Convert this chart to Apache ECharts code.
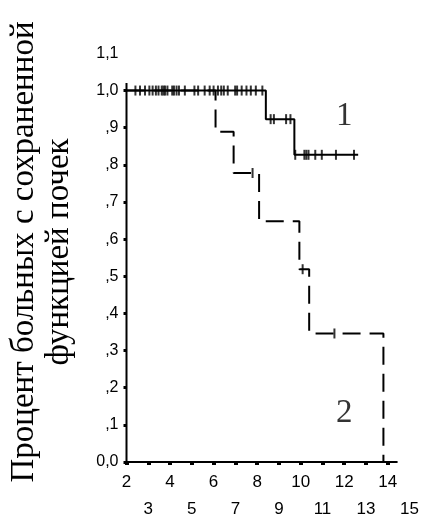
<!DOCTYPE html>
<html>
<head>
<meta charset="utf-8">
<script src="https://cdn.jsdelivr.net/npm/echarts@6/dist/echarts.min.js"></script>
<style>
  html, body { margin: 0; padding: 0; background: #fff; }
  #chart { width: 422px; height: 518px; }
</style>
</head>
<body>
<div id="chart"></div>
<script>
// Kaplan–Meier curves: share of patients with preserved kidney function over time

// Tick values / labels
const yLabelValues = [0, 0.1, 0.2, 0.3, 0.4, 0.5, 0.6, 0.7, 0.8, 0.9, 1.0, 1.1];
const yLabelTexts  = ['0,0', ',1', ',2', ',3', ',4', ',5', ',6', ',7', ',8', ',9', '1,0', '1,1'];
const yTickValues  = [0, 0.1, 0.2, 0.3, 0.4, 0.5, 0.6, 0.7, 0.8, 0.9, 1.0];
const xTickValues  = [2, 3, 4, 5, 6, 7, 8, 9, 10, 11, 12, 13, 14];
const xLabelsUpper = [2, 4, 6, 8, 10, 12, 14];
const xLabelsLower = [3, 5, 7, 9, 11, 13, 15];

// Group 1 survival steps (time, survival after event)
const group1Steps = [[2, 1.0], [8.4, 0.923], [9.71, 0.827], [12.64, 0.827]];
// Group 1 censored observations
const group1Censored = [
  [2.41, 1.0], [2.62, 1.0], [2.85, 1.0], [3.05, 1.0], [3.2, 1.0], [3.35, 1.0], [3.47, 1.0],
  [3.62, 1.0], [3.7, 1.0], [3.77, 1.0], [3.88, 1.0], [4.1, 1.0], [4.18, 1.0], [4.3, 1.0],
  [4.41, 1.0], [4.68, 1.0], [5.12, 1.0], [5.29, 1.0], [5.59, 1.0], [5.82, 1.0], [6.0, 1.0],
  [6.2, 1.0], [6.35, 1.0], [6.47, 1.0], [6.65, 1.0], [6.99, 1.0], [7.08, 1.0], [7.29, 1.0],
  [7.51, 1.0], [7.71, 1.0], [7.94, 1.0], [8.24, 1.0],
  [8.62, 0.923], [8.77, 0.923], [9.33, 0.923], [9.53, 0.923],
  [9.75, 0.827], [10.17, 0.827], [10.26, 0.827], [10.36, 0.827], [10.67, 0.827],
  [10.97, 0.827], [11.62, 0.827], [12.45, 0.827]
];

// Group 2 survival steps
const group2Steps = [[2, 1.0], [6.09, 0.889], [6.92, 0.778], [8.09, 0.648], [9.94, 0.519], [10.39, 0.346], [13.8, 0]];
// Group 2 censored observations
const group2Censored = [[7.79, 0.778], [10.09, 0.519], [11.55, 0.346]];

// Axis lines
const xAxisLine = [[2, 0], [14.45, 0]];
const yAxisLine = [[2, 0], [2, 1.02]];

// Curve labels
const curveLabels = [[12.0, 0.93, '1'], [12.0, 0.13, '2']];

const SANS = '"Liberation Sans", Arial, sans-serif';
const SERIF = '"Liberation Serif", "Times New Roman", serif';

const chart = echarts.init(document.getElementById('chart'), null, { renderer: 'canvas' });

const censorSymbol = {
  type: 'scatter',
  symbol: 'rect',
  symbolSize: [2, 10],
  itemStyle: { color: '#000' },
  silent: true,
  z: 5
};

chart.setOption({
  animation: false,
  backgroundColor: '#fff',
  grid: { left: 126.5, right: 10, top: 53.4, bottom: 54, containLabel: false },
  xAxis: [
    {
      type: 'value', min: 2, max: 15,
      axisLine: { show: false },
      splitLine: { show: false },
      axisTick: {
        show: true, customValues: xTickValues, inside: false, length: 3,
        lineStyle: { color: '#000', width: 4 }
      },
      axisLabel: {
        customValues: xLabelsUpper, margin: 12,
        color: '#000', fontFamily: SANS, fontSize: 17
      }
    },
    {
      type: 'value', min: 2, max: 15, position: 'bottom',
      axisLine: { show: false },
      splitLine: { show: false },
      axisTick: { show: false },
      axisLabel: {
        customValues: xLabelsLower, margin: 39,
        color: '#000', fontFamily: SANS, fontSize: 17
      }
    }
  ],
  yAxis: {
    type: 'value', min: 0, max: 1.1,
    axisLine: { show: false },
    splitLine: { show: false },
    axisTick: {
      show: true, customValues: yTickValues, inside: false, length: 3,
      lineStyle: { color: '#000', width: 3 }
    },
    axisLabel: {
      customValues: yLabelValues, margin: 8,
      color: '#000', fontFamily: SANS, fontSize: 16,
      formatter: (v) => {
        const i = yLabelValues.findIndex(t => Math.abs(t - v) < 1e-6);
        return i >= 0 ? yLabelTexts[i] : '';
      }
    }
  },
  graphic: [
    {
      type: 'text',
      x: 42, y: 252,
      rotation: Math.PI / 2,
      style: {
        text: 'Процент больных с сохраненной\nфункцией почек',
        font: '33px ' + SERIF,
        lineHeight: 35,
        fill: '#000',
        align: 'center',
        verticalAlign: 'middle'
      }
    }
  ],
  series: [
    {
      type: 'line', data: xAxisLine, symbol: 'none', silent: true,
      lineStyle: { color: '#000', width: 2 }, z: 3
    },
    {
      type: 'line', data: yAxisLine, symbol: 'none', silent: true,
      lineStyle: { color: '#000', width: 2 }, z: 3
    },
    {
      name: '2', type: 'line', step: 'end', data: group2Steps, symbol: 'none', silent: true,
      lineStyle: { color: '#000', width: 2, type: [18, 9] }, z: 2
    },
    {
      name: '1', type: 'line', step: 'end', data: group1Steps, symbol: 'none', silent: true,
      lineStyle: { color: '#000', width: 2 }, z: 4
    },
    Object.assign({ name: '1 censored', data: group1Censored }, censorSymbol),
    Object.assign({ name: '2 censored', data: group2Censored }, censorSymbol),
    {
      type: 'scatter', symbolSize: 0, silent: true,
      data: curveLabels.map(d => ({ value: [d[0], d[1]], label: { formatter: d[2] } })),
      label: {
        show: true, position: 'inside',
        color: '#000', fontFamily: SERIF, fontSize: 33
      }
    }
  ]
});
</script>
</body>
</html>
